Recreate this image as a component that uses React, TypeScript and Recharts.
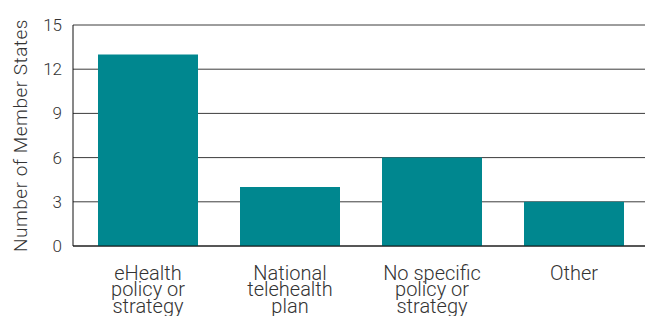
import { Bar, BarChart, CartesianGrid, XAxis, YAxis } from "recharts";

const categories = ["eHealth|policy or|strategy", "National|telehealth|plan", "No specific|policy or|strategy", "Other"];
const memberStates = [13, 4, 6, 3];
const yTicks = [0, 3, 6, 9, 12, 15];

const data = categories.map((name, i) => ({ name, value: memberStates[i] }));

const FONT = "Roboto, 'Noto Sans', sans-serif";

function CategoryTick({ x, y, payload }: any) {
  const lines = String(payload.value).split("|");
  return (
    <text x={x} y={y} textAnchor="middle" fill="#333" fontSize={20} fontFamily={FONT} fontWeight={300}>
      {lines.map((line, i) => (
        <tspan key={i} x={x} dy={i === 0 ? 31.5 : 16.5}>
          {line}
        </tspan>
      ))}
    </text>
  );
}

function AxisTitle({ viewBox }: any) {
  const cx = viewBox.x + 27;
  const cy = viewBox.y + viewBox.height / 2;
  return (
    <text
      x={cx}
      y={cy}
      transform={`rotate(-90 ${cx} ${cy})`}
      textAnchor="middle"
      fill="#333"
      fontSize={19}
      letterSpacing={0.5}
      fontFamily={FONT}
      fontWeight={300}
    >
      Number of Member States
    </text>
  );
}

export default function App() {
  return (
    <div style={{ position: "absolute", left: 0, top: 0, width: 646, height: 316, background: "#fff" }}>
      <BarChart width={646} height={316} data={data} margin={{ top: 25, right: 1, bottom: 0, left: 0 }} barSize={100}>
        <CartesianGrid vertical={false} stroke="#3c3c3c" />
        <XAxis
          dataKey="name"
          height={70}
          tickLine={false}
          tickSize={0}
          axisLine={{ stroke: "#111" }}
          interval={0}
          padding={{ left: 4, right: 0 }}
          tick={<CategoryTick />}
        />
        <YAxis
          width={73}
          domain={[0, 15]}
          ticks={yTicks}
          tickLine={false}
          tickSize={0}
          tickMargin={11}
          axisLine={{ stroke: "#111" }}
          tick={{ fill: "#333", fontSize: 17, fontFamily: FONT, fontWeight: 300 }}
          label={{ content: <AxisTitle /> }}
        />
        <Bar dataKey="value" fill="#00878f" isAnimationActive={false} />
      </BarChart>
    </div>
  );
}
